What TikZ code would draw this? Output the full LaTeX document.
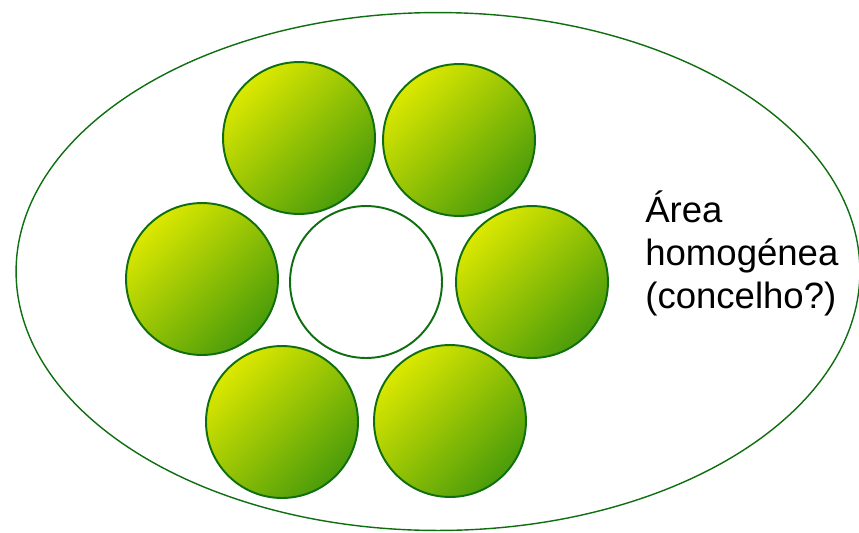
\documentclass[tikz,border=0pt]{standalone}
\usepackage{fontspec}
\setmainfont{Liberation Sans}
\usepackage{tikz}
\usetikzlibrary{shapes.geometric}
\definecolor{hgLine}{HTML}{0F6E10}
\definecolor{hgYellow}{HTML}{DCE800}
\definecolor{hgGreen}{HTML}{4A9C0A}

\begin{document}
\begin{tikzpicture}[
  x=0.02cm, y=-0.02cm,
  area/.style={ellipse, draw=hgLine, line width=0.8pt, fill=white, inner sep=0pt,
               minimum width=16.88cm, minimum height=10.36cm},
  freg/.style={circle, draw=hgLine, line width=1.1pt, inner sep=0pt, minimum size=3.04cm,
               top color=hgYellow, bottom color=hgGreen, shading angle=45},
  centro/.style={circle, draw=hgLine, line width=1.1pt, fill=white, inner sep=0pt, minimum size=3.04cm},
  rotulo/.style={align=left, inner sep=0pt, font=\fontsize{20.8}{24.5}\selectfont},
]
\useasboundingbox (0,0) rectangle (859,532);

% Area homogenea
\node[area] (area) at (438,271.5) {};

% Circles
\node[centro] (c0) at (366,282) {};
\node[freg] (c1) at (299,138) {};
\node[freg] (c2) at (459,140) {};
\node[freg] (c3) at (202,279) {};
\node[freg] (c4) at (532,282) {};
\node[freg] (c5) at (282,422) {};
\node[freg] (c6) at (450,421) {};

% Label
\node[rotulo, anchor=west] (lbl) at (645,253) {Área\\homogénea\\(concelho?)};

\end{tikzpicture}
\end{document}
